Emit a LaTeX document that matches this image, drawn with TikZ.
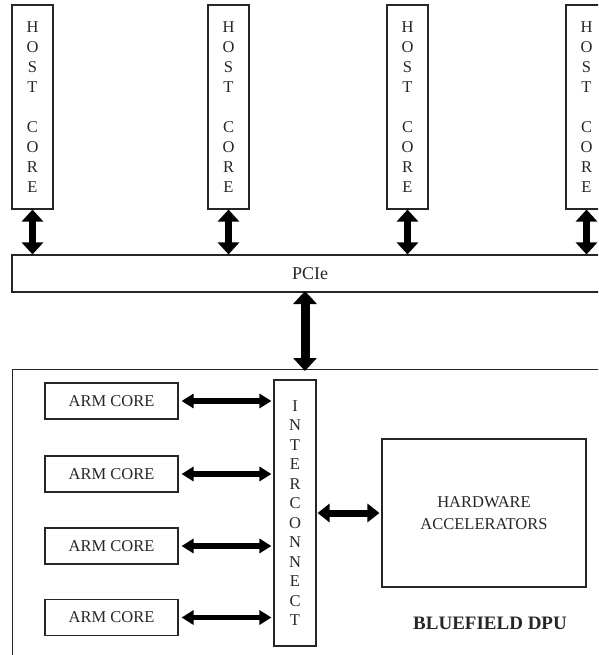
\documentclass[tikz,border=0pt]{standalone}
\usepackage{fontspec}
\setmainfont{Liberation Serif}
\usetikzlibrary{arrows.meta}
\begin{document}
\begin{tikzpicture}[x=1pt,y=-1pt,
  box/.style={draw=black!85, line width=1.1pt, inner sep=0pt, text=black!85,
    font=\fontsize{16.5}{20}\selectfont, align=center},
  hostlink/.style={line width=7pt,
    {Triangle[width=21pt,length=12pt]}-{Triangle[width=21pt,length=12pt]}},
  mainlink/.style={line width=9pt,
    {Triangle[width=23pt,length=13pt]}-{Triangle[width=23pt,length=13pt]}},
  armlink/.style={line width=5.5pt, shorten <=3pt, shorten >=2pt,
    {Triangle[width=14pt,length=12pt]}-{Triangle[width=14pt,length=12pt]}},
  hwlink/.style={line width=7pt, shorten <=1pt, shorten >=2pt,
    {Triangle[width=18pt,length=12pt]}-{Triangle[width=18pt,length=12pt]}}]
\clip (0,0) rectangle (598,655);

% host cores
\foreach \n/\cx in {1/32.5, 2/228.5, 3/407.5, 4/586.5}
  \node[box, minimum width=41pt, minimum height=204pt] (h\n) at (\cx,107)
    {H\\O\\S\\T\\[20pt]C\\O\\R\\E};

% PCIe bus
\node[box, minimum width=596pt, minimum height=37pt,
  font=\fontsize{18}{20}\selectfont] (pcie) at (310,273.5) {PCIe};

\foreach \n in {1,...,4}
  \draw[hostlink] (h\n.south) -- (h\n.south |- pcie.north);

% DPU outline
\node[box, minimum width=620pt, minimum height=320pt, anchor=north west]
  (dpu) at (12,369) {};
\coordinate (up) at (305,292);
\coordinate (down) at (305,369);
\draw[mainlink] ([yshift=1pt]up) -- ([yshift=-2pt]down);

% interconnect
\node[box, minimum width=42pt, minimum height=266pt,
  font=\fontsize{16.5}{19.5}\selectfont] (ic) at (295,513)
  {I\\N\\T\\E\\R\\C\\O\\N\\N\\E\\C\\T};

% ARM cores
\foreach \n/\cy in {1/401, 2/474, 3/546, 4/617.5}
  \node[box, minimum width=133pt, minimum height=36pt] (a\n) at (111.5,\cy)
    {ARM CORE};
\foreach \n in {1,...,4}
  \draw[armlink] (a\n.east) -- (a\n.east -| ic.west);

% hardware accelerators
\node[box, minimum width=204pt, minimum height=148pt,
  font=\fontsize{16.5}{22}\selectfont] (hw) at (484,513)
  {HARDWARE\\ACCELERATORS};
\draw[hwlink] (ic.east |- hw.west) -- (hw.west);

\node[text=black!85, font=\bfseries\fontsize{19}{22}\selectfont]
  (label) at (490,623) {BLUEFIELD DPU};
\end{tikzpicture}
\end{document}
